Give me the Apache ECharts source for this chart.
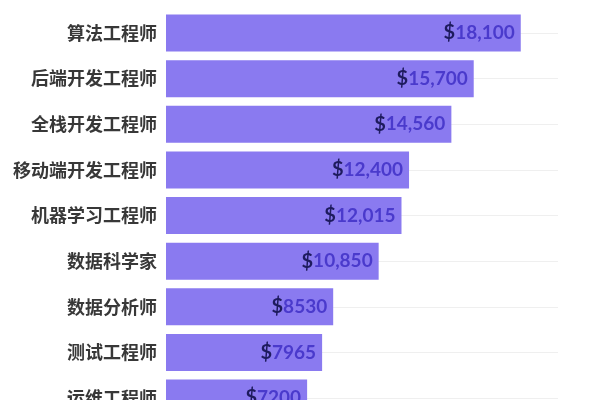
<!DOCTYPE html>
<html>
<head>
    <meta charset="utf-8">
    <title>岗位薪资</title>
    <script src="https://cdn.jsdelivr.net/npm/echarts@6/dist/echarts.min.js"></script>
    <style>
        html, body { margin: 0; padding: 0; background: #fff; }
        #container { width: 600px; height: 400px; }
    </style>
</head>
<body>
<div id="container"></div>
<script type="text/javascript">
    // 岗位 与 月薪
    var jobs = ['算法工程师', '后端开发工程师', '全栈开发工程师', '移动端开发工程师', '机器学习工程师',
        '数据科学家', '数据分析师', '测试工程师', '运维工程师'];
    var salaries = [18100, 15700, 14560, 12400, 12015, 10850, 8530, 7965, 7200];
    var xMax = 20000;

    function fmt(v) {
        // 大于一万的加千分位
        if (v >= 10000) {
            return String(v).replace(/\B(?=(\d{3})+(?!\d))/g, ',');
        }
        return String(v);
    }

    var mychart = echarts.init(document.getElementById('container'));

    var options = {
        animation: false,
        grid: { left: 166, right: 42, top: 33, height: 365, outerBoundsMode: 'none' },
        xAxis: {
            type: 'value',
            min: 0,
            max: xMax,
            show: false
        },
        yAxis: {
            type: 'category',
            data: jobs,
            inverse: true,
            boundaryGap: false,
            axisLine: { show: false },
            axisTick: { show: false },
            axisLabel: {
                margin: 9,
                color: '#383838',
                fontSize: 18,
                fontWeight: 'bold',
                fontFamily: 'Noto Sans CJK SC'
            },
            splitLine: { show: true, lineStyle: { color: '#efefef', width: 1 } }
        },
        series: [{
            type: 'bar',
            data: salaries,
            barWidth: 37,
            clip: false,
            itemStyle: { color: '#8a7af0' },
            label: {
                show: true,
                position: 'insideRight',
                distance: 6,
                formatter: function (p) {
                    return '{d|$}{n|' + fmt(p.value) + '}';
                },
                rich: {
                    d: { color: '#1e1b5e', fontSize: 20, fontWeight: 'bold', fontFamily: 'Lato' },
                    n: { color: '#4a3acc', fontSize: 19, fontWeight: 'bold', fontFamily: 'Lato' }
                }
            }
        }]
    };

    mychart.setOption(options);
</script>
</body>
</html>
